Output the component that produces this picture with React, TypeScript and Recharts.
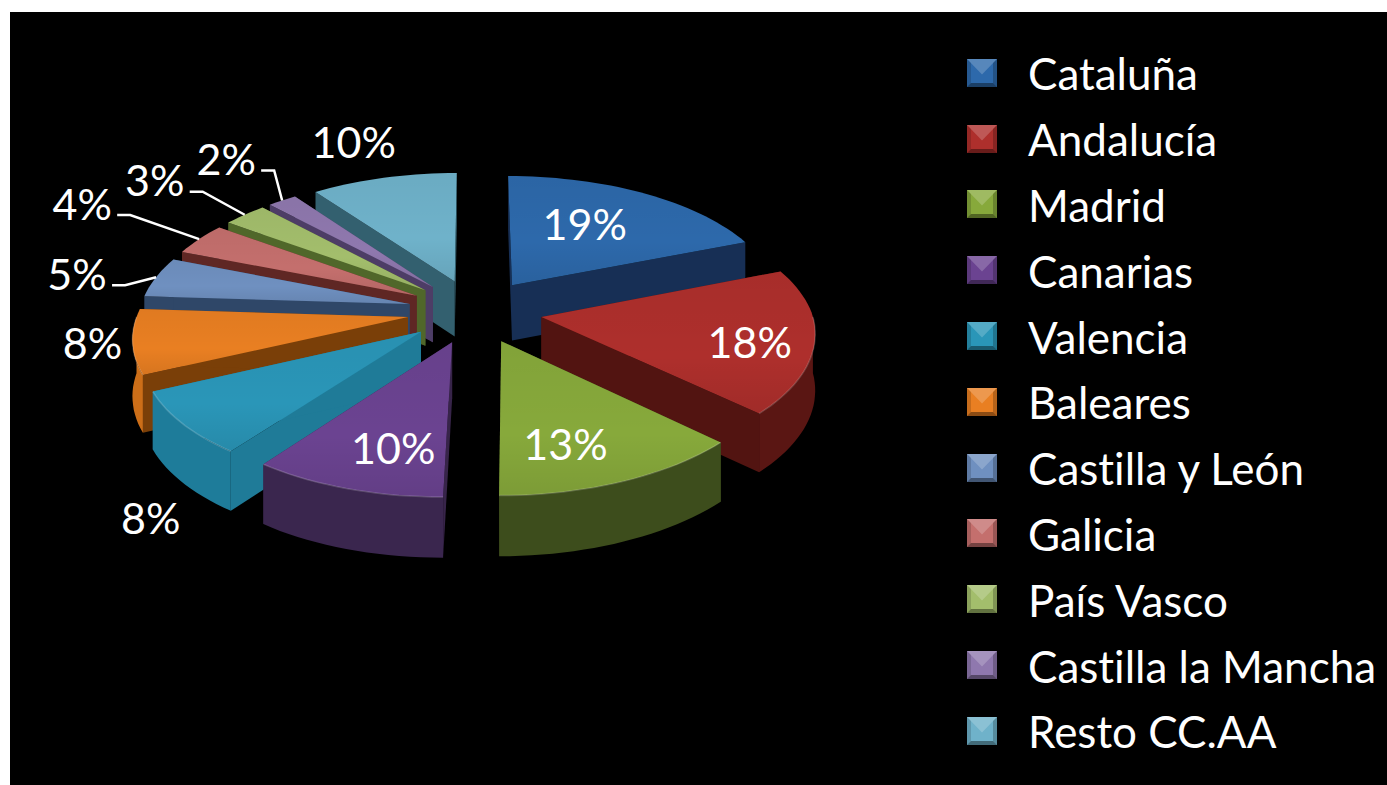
import React from "react";
import { PieChart, Pie, Legend } from "recharts";

const names = ["Cataluña","Andalucía","Madrid","Canarias","Valencia","Baleares","Castilla y León","Galicia","País Vasco","Castilla la Mancha","Resto CC.AA"];
const shares = [19,18,13,10,8,8,5,4,3,2,10];
const topColors = ["#2D69AB","#AE2F2C","#87A93B","#6B4391","#2A96B8","#E97F22","#6F90C0","#C46F6D","#A3BE6C","#8F78AE","#6FB2CA"];
const edgeColors = ["#172F55","#521411","#3D4D1C","#372449","#1F7B98","#7A3F08","#2F4768","#5F2724","#50672A","#4D3D66","#33606F"];
const wallColors = ["#1A3760","#5A1613","#3D4D1C","#3A264E","#1E7C9A","#CC6E18","#2F4768","#5F2724","#50672A","#4D3D66","#33606F"];
const labelOffsets: Record<string, number[]> = {
  "Cataluña":[-59,30],"Andalucía":[-65,0],"Madrid":[-58,-38],"Canarias":[47,-41],"Valencia":[-32,94],"Baleares":[-40,1],
  "Castilla y León":[-79,-4],"Galicia":[-117,-36],"País Vasco":[-90,-35],"Castilla la Mancha":[-56,-42],"Resto CC.AA":[-30,-36],
};
const leaderNames = ["Castilla y León","Galicia","País Vasco","Castilla la Mancha"];

const rows = names.map((name, i) => ({ name, value: shares[i], idx: i }));
const rightRows = rows.slice(0, 3);
const leftRows = rows.slice(3).reverse();

const OX = 10, OY = 12, W = 1377, H = 773;
const CX = 475 - OX, CY = 311 - OY, RX = 270;
const SQUASH = 128 / 270, PERSP = 0.12, EXPLODE = 0.25, DEPTH = 56, FRONT_SHEAR = 6;
const FONT = "Lato, 'Open Sans', sans-serif";
const rad = (d: number) => (d * Math.PI) / 180;

function project(deg: number, mid: number, r: number, drop = 0) {
  const wx = r * Math.sin(rad(deg)) + EXPLODE * Math.sin(rad(mid));
  const wy = -r * Math.cos(rad(deg)) - EXPLODE * Math.cos(rad(mid));
  const s = 1 / (1 - PERSP * wy);
  return [CX + wx * RX * s - FRONT_SHEAR * Math.max(0, wy), CY + wy * RX * SQUASH * s + drop * Math.sqrt(s)];
}
const fmt = (pts: number[][]) => pts.map((p) => `${p[0].toFixed(1)},${p[1].toFixed(1)}`);
const toPath = (pts: number[][]) => "M" + fmt(pts).join("L") + "Z";
function arc(a: number, b: number, mid: number, drop = 0) {
  const n = Math.max(2, Math.ceil((b - a) / 2));
  const out: number[][] = [];
  for (let i = 0; i <= n; i++) out.push(project(a + ((b - a) * i) / n, mid, 1, drop));
  return out;
}

function Slice(props: any) {
  const i = names.indexOf(props.name ?? props.payload?.name);
  let a = 90 - Math.max(props.startAngle, props.endAngle);
  let b = 90 - Math.min(props.startAngle, props.endAngle);
  if (a < 0) { a += 360; b += 360; }
  const mid = (a + b) / 2;
  const apex = project(0, mid, 0);
  const apexLow = project(0, mid, 0, DEPTH);
  const wall = (deg: number) => toPath([apex, project(deg, mid, 1), project(deg, mid, 1, DEPTH), apexLow]);
  const wa = Math.max(a, 90), wb = Math.min(b, 270);
  const gid = `top-${i}`;
  return (
    <g>
      <defs>
        <linearGradient id={gid} x1="0" y1="0" x2="0" y2="1">
          <stop offset="0" stopColor="#000" stopOpacity={0.04} />
          <stop offset="0.6" stopColor="#000" stopOpacity={0} />
          <stop offset="1" stopColor="#000" stopOpacity={0.08} />
        </linearGradient>
      </defs>
      <path d={wall(a)} fill={edgeColors[i]} />
      <path d={wall(b)} fill={edgeColors[i]} />
      {wb > wa && <path d={toPath([...arc(wa, wb, mid), ...arc(wa, wb, mid, DEPTH).reverse()])} fill={wallColors[i]} />}
      <path d={toPath([apex, ...arc(a, b, mid)])} fill={topColors[i]} />
      <path d={toPath([apex, ...arc(a, b, mid)])} fill={`url(#${gid})`} />
      {wb > wa && <polyline points={fmt(arc(wa, wb, mid)).join(" ")} fill="none" stroke="#fff" strokeOpacity={0.18} strokeWidth={1.5} />}
    </g>
  );
}

function SliceLabel(props: any) {
  const name = props.name ?? props.payload?.name;
  const [dx, dy] = labelOffsets[name];
  const deg = 90 - props.midAngle;
  const rim = project(deg, deg, 1);
  const x = rim[0] + dx, y = rim[1] + dy;
  const hasLeader = leaderNames.includes(name);
  const lx = x + 35, ly = y + 12;
  return (
    <g>
      {hasLeader && (
        <polyline points={`${lx},${ly} ${lx + 13},${ly} ${rim[0]},${rim[1]}`} fill="none" stroke="#fff" strokeWidth={2.5} />
      )}
      <text x={x} y={y} fill="#fff" textAnchor="middle" dominantBaseline="central" fontFamily={FONT} fontSize={43} style={{ fontVariantLigatures: "none" }}>{`${props.value}%`}</text>
    </g>
  );
}

function Key({ color }: { color: string }) {
  const w = 30, h = 28;
  return (
    <svg width={w} height={h} style={{ display: "block" }}>
      <rect width={w} height={h} fill={color} />
      <polygon points={`0,0 ${w},0 ${w / 2},${h * 0.55}`} fill="#fff" fillOpacity={0.2} />
      <polygon points={`0,${h} ${w},${h} ${w - 4},${h - 4} 4,${h - 4}`} fill="#000" fillOpacity={0.4} />
      <polygon points={`0,0 4,4 4,${h - 4} 0,${h}`} fill="#000" fillOpacity={0.15} />
      <polygon points={`${w},0 ${w - 4},4 ${w - 4},${h - 4} ${w},${h}`} fill="#000" fillOpacity={0.22} />
    </svg>
  );
}

function LegendList() {
  return (
    <div>
      {names.map((n, i) => (
        <div key={n} style={{ height: 65.8, display: "flex", alignItems: "center" }}>
          <Key color={topColors[i]} />
          <span style={{ marginLeft: 31, marginTop: 1, color: "#fff", fontFamily: FONT, fontSize: 44, lineHeight: "50px", whiteSpace: "nowrap", fontVariantLigatures: "none" }}>{n}</span>
        </div>
      ))}
    </div>
  );
}

export default function App() {
  return (
    <div style={{ position: "absolute", left: OX, top: OY, width: W, height: H, background: "#000", overflow: "hidden" }}>
      <PieChart width={W} height={H} margin={{ top: 0, right: 0, bottom: 0, left: 0 }}>
        <Pie data={leftRows} dataKey="value" nameKey="name" cx={CX} cy={CY} outerRadius={RX} startAngle={90} endAngle={270}
          stroke="none" isAnimationActive={false} shape={Slice} label={SliceLabel} labelLine={false} />
        <Pie data={rightRows} dataKey="value" nameKey="name" cx={CX} cy={CY} outerRadius={RX} startAngle={90} endAngle={-90}
          stroke="none" isAnimationActive={false} shape={Slice} label={SliceLabel} labelLine={false} />
        <Legend content={() => <LegendList />} layout="vertical" wrapperStyle={{ position: "absolute", left: 967 - OX, top: 40 - OY, width: 420 }} />
      </PieChart>
    </div>
  );
}
